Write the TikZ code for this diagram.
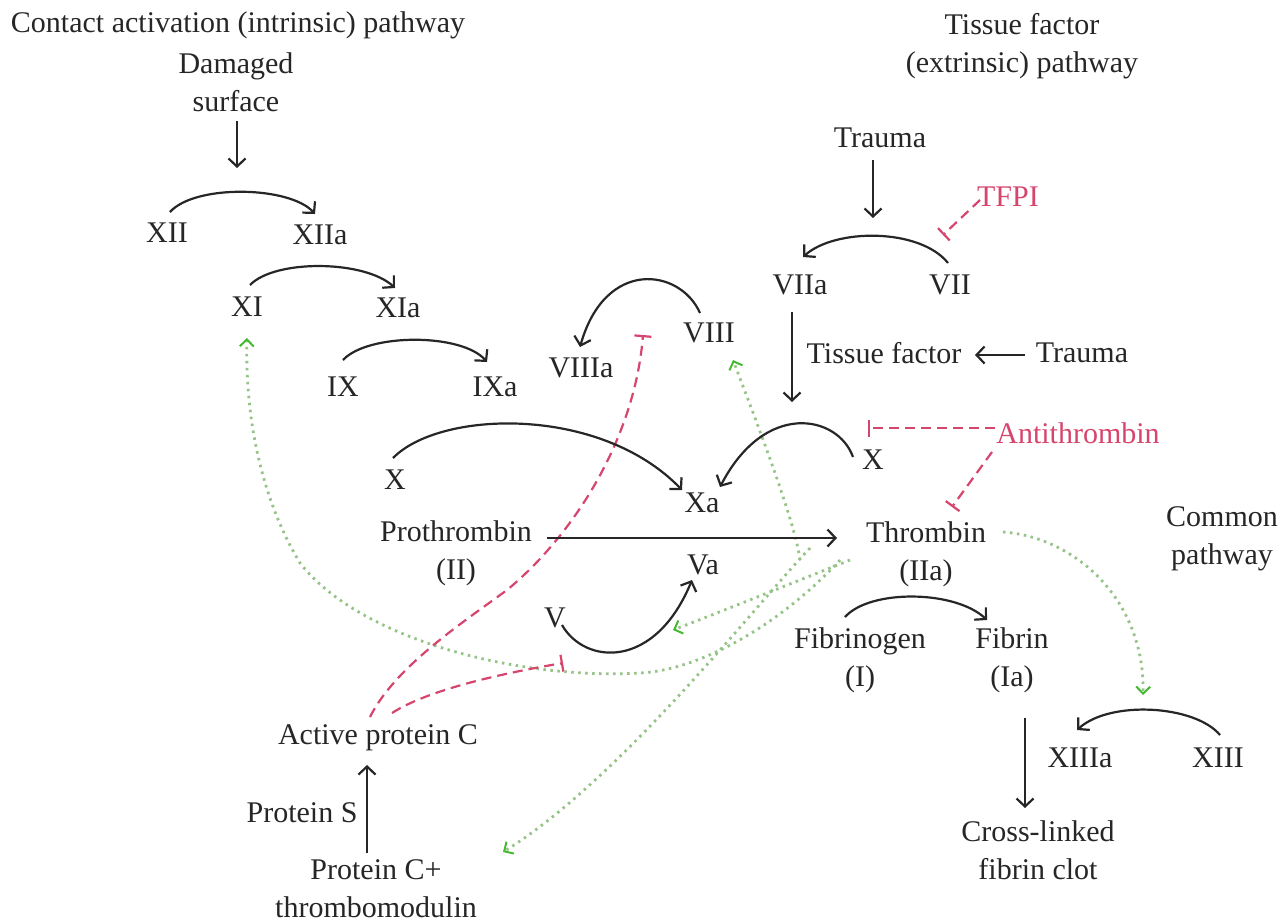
\documentclass[tikz,border=0pt]{standalone}
\usepackage{fontspec}
\setmainfont{Liberation Serif}
\usetikzlibrary{arrows.meta,calc}
\definecolor{inh}{RGB}{214,69,109}
\definecolor{gline}{RGB}{150,195,135}
\definecolor{gtip}{RGB}{70,185,50}
\begin{document}
\begin{tikzpicture}[x=1pt,y=-1pt,
  lbl/.style={font=\fontsize{30}{38}\selectfont, inner sep=0pt, align=center, text=black!85},
  inhlbl/.style={lbl, text=inh},
  blk/.style={draw=black!85, line width=2.2pt, -{Straight Barb[length=8pt,width=17pt]}},
  inhib/.style={draw=inh, line width=2.2pt, dash pattern=on 10pt off 6pt, -{Bar[width=17pt]}},
  act/.style={draw=gline, line width=2.8pt, dash pattern=on 2.5pt off 4.5pt, -{Straight Barb[length=7pt,width=14pt,color=gtip,line width=2pt]}},
]
\useasboundingbox (0,0) rectangle (1288,922);
% labels
\node[lbl] (t1) at (238,25) {Contact activation (intrinsic) pathway};
\node[lbl] (t2) at (1022,46) {Tissue factor\\(extrinsic) pathway};
\node[lbl] (dam) at (236,82) {Damaged\\surface};
\node[lbl] (XII) at (167,233) {XII};
\node[lbl] (XIIa) at (320,235) {XIIa};
\node[lbl] (XI) at (247,307) {XI};
\node[lbl] (XIa) at (398,308) {XIa};
\node[lbl] (IX) at (343,387) {IX};
\node[lbl] (IXa) at (495,387) {IXa};
\node[lbl] (VIIIa) at (581,368) {VIIIa};
\node[lbl] (VIII) at (709,333) {VIII};
\node[lbl] (Tr1) at (880,138) {Trauma};
\node[inhlbl] (TFPI) at (1008,197) {TFPI};
\node[lbl] (VIIa) at (800,285) {VIIa};
\node[lbl] (VII) at (950,285) {VII};
\node[lbl] (TF) at (884,353) {Tissue factor};
\node[lbl] (Tr2) at (1082,353) {Trauma};
\node[lbl] (X1) at (395,480) {X};
\node[lbl] (Xa) at (702,503) {Xa};
\node[lbl] (X2) at (873,460) {X};
\node[inhlbl] (AT) at (1078,433) {Antithrombin};
\node[lbl] (Pro) at (456,553) {Prothrombin\\(II)};
\node[lbl] (Thr) at (926,554) {Thrombin\\(IIa)};
\node[lbl] (Com) at (1222,539) {Common\\pathway};
\node[lbl] (Va) at (703,565) {Va};
\node[lbl] (V) at (555,618) {V};
\node[lbl] (Fbg) at (860,660) {Fibrinogen\\(I)};
\node[lbl] (Fbn) at (1012,660) {Fibrin\\(Ia)};
\node[lbl] (XIIIa) at (1080,758) {XIIIa};
\node[lbl] (XIII) at (1218,758) {XIII};
\node[lbl] (Clot) at (1038,850) {Cross-linked\\fibrin clot};
\node[lbl] (APC) at (378,738) {Active protein C};
\node[lbl] (PS) at (302,813) {Protein S};
\node[lbl] (PCT) at (376,889) {Protein C+\\thrombomodulin};
% free ends
\coordinate (cA) at (237,168);
\coordinate (cB) at (792,402);
\coordinate (cC) at (873,218);
\coordinate (cD) at (943,235);
\coordinate (cE) at (868,428);
\coordinate (cF) at (643,335);
\coordinate (cG) at (563,663);
% green activation (thrombin feedback)
\draw[act] ($(Thr)+(-126,6)$) .. controls (795,520) and (752,410) .. ($(VIII)+(24,27)$);
\draw[act] ($(Thr)+(-76,6)$) .. controls (800,580) and (720,612) .. ($(Va)+(-30,65)$);
\draw[act] ($(Thr)+(-116,-6)$) .. controls (760,600) and (620,780) .. ($(PCT)+(127,-37)$);
\draw[act] ($(Thr)+(-86,6)$) .. controls (780,625) and (700,670) .. (640,673)
  .. controls (520,680) and (360,640) .. (300,563)
  .. controls (262,500) and (245,420) .. ($(XI)+(0,31)$);
\draw[act] ($(Thr)+(77,-22)$) .. controls (1075,537) and (1145,600) .. ($(XIIIa)+(63,-63)$);
% red inhibition
\draw[inhib] ($(TFPI)+(-28,3)$) -- (cD);
\draw[inhib] ($(AT)+(-83,-5)$) -- (cE);
\draw[inhib] ($(AT)+(-86,19)$) -- ($(Thr)+(26,-47)$);
\draw[inhib] ($(APC)+(-8,-21)$) .. controls (395,667) and (462,623) .. (507,590)
  .. controls (577,532) and (635,435) .. (cF);
\draw[inhib] ($(APC)+(14,-25)$) .. controls (420,695) and (475,678) .. (cG);
% black reactions
\draw[blk] ($(dam)+(1,39)$) -- (cA);
\draw[blk] ($(XII)+(3,-21)$) .. controls ($(XII)+(28,-49)$) and ($(XIIa)+(-30,-49)$) .. ($(XIIa)+(-5,-21)$);
\draw[blk] ($(XI)+(3,-22)$) .. controls ($(XI)+(28,-48)$) and ($(XIa)+(-33,-48)$) .. ($(XIa)+(-3,-20)$);
\draw[blk] ($(IX)+(0,-27)$) .. controls ($(IX)+(25,-54)$) and ($(IXa)+(-33,-54)$) .. ($(IXa)+(-8,-25)$);
\draw[blk] ($(X1)+(-2,-22)$) .. controls ($(X1)+(45,-70)$) and ($(Xa)+(-102,-98)$) .. ($(Xa)+(-20,-13)$);
\draw[blk] ($(X2)+(-20,-3)$) .. controls ($(X2)+(-35,-45)$) and ($(Xa)+(63,-103)$) .. ($(Xa)+(18,-16)$);
\draw[blk] ($(VIIa)+(-8,27)$) -- (cB);
\draw[blk] ($(Tr2)+(-57,2)$) -- ($(TF)+(91,2)$);
\draw[blk] ($(Tr1)+(-7,22)$) -- (cC);
\draw[blk] ($(VII)+(-2,-22)$) .. controls ($(VII)+(-30,-57)$) and ($(VIIa)+(35,-57)$) .. ($(VIIa)+(3,-28)$);
\draw[blk] ($(VIII)+(-9,-20)$) .. controls ($(VIII)+(-29,-65)$) and ($(VIIIa)+(24,-110)$) .. ($(VIIIa)+(-1,-21)$);
\draw[blk] ($(Pro)+(91,-15)$) -- ($(Thr)+(-89,-16)$);
\draw[blk] ($(Fbg)+(-15,-43)$) .. controls ($(Fbg)+(10,-71)$) and ($(Fbn)+(-57,-70)$) .. ($(Fbn)+(-25,-40)$);
\draw[blk] ($(XIII)+(2,-23)$) .. controls ($(XIII)+(-23,-53)$) and ($(XIIIa)+(30,-58)$) .. ($(XIIIa)+(-3,-28)$);
\draw[blk] ($(Fbn)+(13,58)$) -- ($(Clot)+(-13,-42)$);
\draw[blk] ($(PCT)+(-9,-36)$) -- ($(APC)+(-11,27)$);
\draw[blk] ($(V)+(7,7)$) .. controls ($(V)+(30,47)$) and ($(Va)+(-48,105)$) .. ($(Va)+(-11,15)$);
\end{tikzpicture}
\end{document}
